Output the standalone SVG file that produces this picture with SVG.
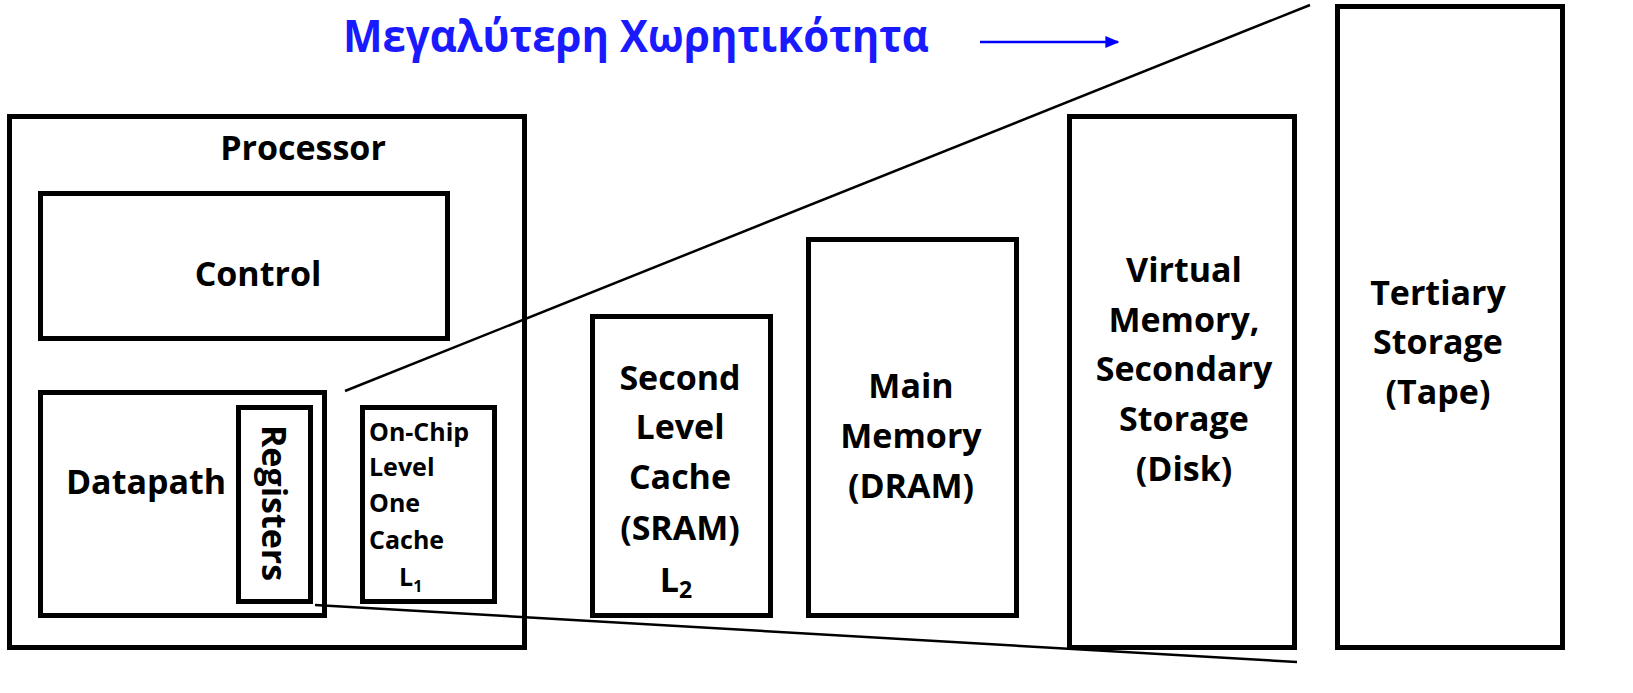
<svg xmlns="http://www.w3.org/2000/svg" width="1633" height="693" viewBox="0 0 1633 693">
<style>
.b{fill:#fff;stroke:#000;stroke-width:5}
.t{font-family:"Open Sans","Liberation Sans",sans-serif;font-weight:bold;fill:#000;text-anchor:middle}
.m{font-size:34px}
.s{font-size:25px}
.c{stroke:#000;stroke-width:2.5;fill:none}
</style>
<defs>
<marker id="ah" viewBox="0 0 10 10" refX="9" refY="5" markerWidth="14" markerHeight="12" markerUnits="userSpaceOnUse" orient="auto" preserveAspectRatio="none"><path d="M0,0L10,5L0,10z" fill="#0000ff"/></marker>
</defs>
<rect width="1633" height="693" fill="#fff"/>
<text x="636" y="52" font-family="Open Sans, Liberation Sans, sans-serif" font-weight="bold" font-size="44" fill="#1a1aff" text-anchor="middle" textLength="586" lengthAdjust="spacingAndGlyphs">Μεγαλύτερη Χωρητικότητα</text>
<line x1="980" y1="42" x2="1118" y2="42" stroke="#0000ff" stroke-width="2.5" marker-end="url(#ah)"/>
<g id="processor"><rect class="b" x="9.5" y="116.5" width="515" height="531"/><text class="t m" x="303" y="160">Processor</text></g>
<g id="control"><rect class="b" x="40.5" y="193.5" width="407" height="145"/><text class="t m" x="258" y="286">Control</text></g>
<g id="datapath"><rect class="b" x="40.5" y="392.5" width="284" height="223"/><text class="t m" x="146" y="494">Datapath</text></g>
<g id="registers"><rect class="b" x="238.5" y="407.5" width="72" height="194"/><text class="t m" transform="translate(262,503) rotate(90)" x="0" y="0">Registers</text></g>
<g id="l1"><rect class="b" x="362.5" y="407.5" width="132" height="194"/>
<g class="t s" style="text-anchor:start"><text x="369" y="441">On-Chip</text><text x="369" y="476">Level</text><text x="369" y="512">One</text><text x="369" y="549">Cache</text><text x="399" y="586">L<tspan font-size="16" dy="6">1</tspan></text></g></g>
<g id="l2"><rect class="b" x="592.5" y="316.5" width="178" height="299"/>
<text class="t m" x="680" y="390">Second</text><text class="t m" x="680" y="439">Level</text><text class="t m" x="680" y="489">Cache</text><text class="t m" x="680" y="540">(SRAM)</text><text class="t m" x="676" y="592">L<tspan font-size="23" dy="6">2</tspan></text></g>
<g id="main"><rect class="b" x="808.5" y="239.5" width="208" height="376"/>
<text class="t m" x="911" y="398">Main</text><text class="t m" x="911" y="448">Memory</text><text class="t m" x="911" y="498">(DRAM)</text></g>
<g id="virtual"><rect class="b" x="1069.5" y="116.5" width="225" height="531"/>
<text class="t m" x="1184" y="282">Virtual</text><text class="t m" x="1184" y="332">Memory,</text><text class="t m" x="1184" y="381">Secondary</text><text class="t m" x="1184" y="431">Storage</text><text class="t m" x="1184" y="481">(Disk)</text></g>
<g id="tertiary"><rect class="b" x="1337.5" y="6.5" width="225" height="641"/>
<text class="t m" x="1438" y="305">Tertiary</text><text class="t m" x="1438" y="354">Storage</text><text class="t m" x="1438" y="404">(Tape)</text></g>
<g id="connectors"><line class="c" x1="345" y1="391" x2="1310" y2="5"/><line class="c" x1="315" y1="605" x2="1297" y2="662"/></g>
</svg>
